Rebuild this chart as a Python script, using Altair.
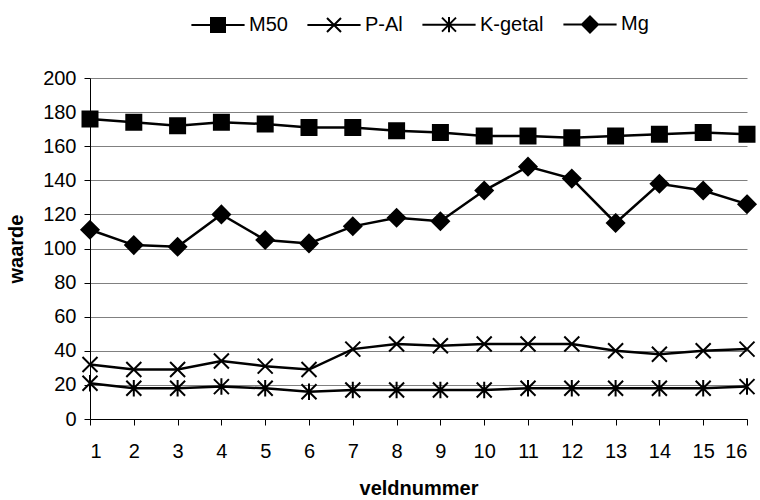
import altair as alt
import pandas as pd

veld = list(range(1, 17))
m50 = [176, 174, 172, 174, 173, 171, 171, 169, 168, 166, 166, 165, 166, 167, 168, 167]
p_al = [32, 29, 29, 34, 31, 29, 41, 44, 43, 44, 44, 44, 40, 38, 40, 41]
k_getal = [21, 18, 18, 19, 18, 16, 17, 17, 17, 17, 18, 18, 18, 18, 18, 19]
mg = [111, 102, 101, 120, 105, 103, 113, 118, 116, 134, 148, 141, 115, 138, 134, 126]
series_names = ["M50", "P-Al", "K-getal", "Mg"]
y_ticks = list(range(0, 201, 20))

rows = []
for name, vals in zip(series_names, [m50, p_al, k_getal, mg]):
    for v, w in zip(veld, vals):
        rows.append({"veld": v, "waarde": w, "series": name})
df = pd.DataFrame(rows)

marker_paths = [
    "M-1,-1H1V1H-1Z",
    "M-1,-1L1,1M-1,1L1,-1",
    "M-1,-1L1,1M-1,1L1,-1M0,-1.1L0,1.1",
    "M0,-1.15L1.15,0L0,1.15L-1.15,0Z",
]
legend_paths = [
    "M-3.8,0H3.8M-1,-1H1V1H-1Z",
    "M-3.8,0H3.8M-1,-1L1,1M-1,1L1,-1",
    "M-3.8,0H3.8M-1,-1L1,1M-1,1L1,-1M0,-1.1L0,1.1",
    "M-3.8,0H3.8M0,-1.15L1.15,0L0,1.15L-1.15,0Z",
]

FONT = "Liberation Sans"

x_enc = alt.X(
    "veld:Q",
    scale=alt.Scale(domain=[1, 16], nice=False, zero=False),
    axis=alt.Axis(values=veld, title="veldnummer", grid=False, tickSize=6,
                  labelPadding=16, titlePadding=17, format="d"),
)
y_enc = alt.Y(
    "waarde:Q",
    scale=alt.Scale(domain=[0, 200], nice=False),
    axis=alt.Axis(values=y_ticks, title="waarde", grid=True, gridColor="#808080",
                  gridWidth=1, tickSize=6, labelPadding=8, titlePadding=16),
)

base = alt.Chart(df)

lines = base.mark_line(color="black", strokeWidth=2.5).encode(
    x=x_enc, y=y_enc, detail="series:N"
)

points = base.mark_point(filled=True, fill="black", stroke="black", strokeWidth=2,
                         size=225, opacity=1).encode(
    x=x_enc, y=y_enc,
    shape=alt.Shape("series:N", scale=alt.Scale(domain=series_names, range=marker_paths),
                    legend=None),
)

legend_layer = base.transform_filter("datum.veld < 0").mark_point(
    filled=False, color="black", fill="black", stroke="black", strokeWidth=2, opacity=1
).encode(
    x=x_enc, y=y_enc,
    shape=alt.Shape(
        "series:N",
        scale=alt.Scale(domain=series_names, range=legend_paths),
        legend=alt.Legend(
            orient="none", legendX=118, legendY=-64, direction="horizontal",
            columns=4, title=None, labelFont=FONT, labelFontSize=20, labelColor="black",
            symbolSize=196, symbolStrokeWidth=2, labelOffset=21,
            columnPadding=15, padding=0,
        ),
    ),
)

chart = alt.layer(lines, points, legend_layer).resolve_scale(shape="independent").properties(
    width=657, height=341,
    autosize=alt.AutoSizeParams(type="none"),
    padding={"left": 90, "top": 78, "right": 13, "bottom": 81},
).configure_view(stroke=None).configure_axis(
    domainColor="black", tickColor="black", labelColor="black", titleColor="black",
    labelFont=FONT, titleFont=FONT, labelFontSize=20, titleFontSize=20,
    titleFontWeight="bold", domainWidth=1, tickWidth=1,
)

chart.save("out.html", embed_options={"renderer": "svg", "actions": False})
